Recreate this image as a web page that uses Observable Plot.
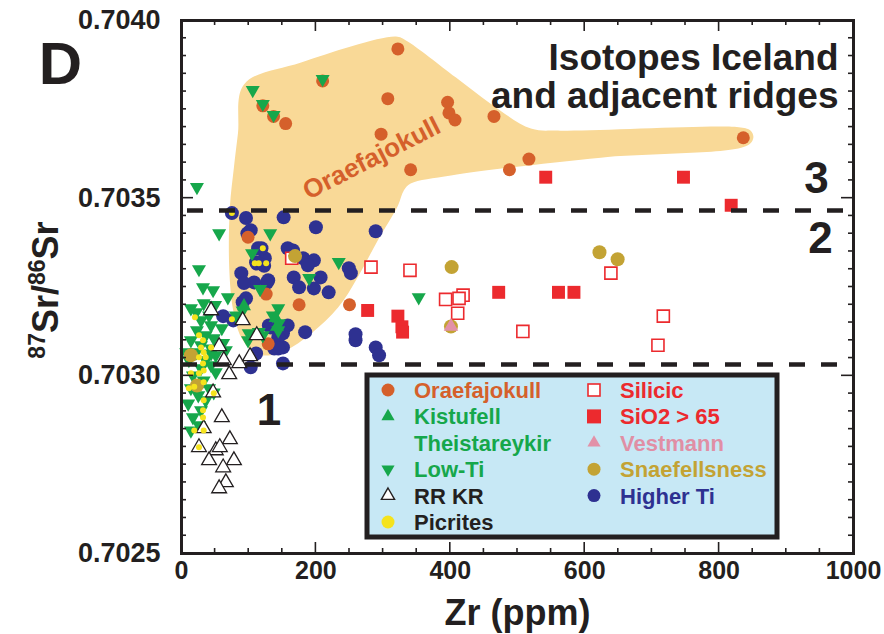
<!DOCTYPE html>
<html><head><meta charset="utf-8">
<script src="https://cdn.jsdelivr.net/npm/d3@7"></script>
<script src="https://cdn.jsdelivr.net/npm/@observablehq/plot@0.6"></script>
<style>
body{margin:0;background:#fff;}
#chart{width:884px;height:634px;}
svg{font-family:"Liberation Sans",Arial,sans-serif;}
</style></head><body><div id="chart"></div>
<script>
// ---- data (Zr ppm, 87Sr/86Sr) ----
const oraefajokullField = [[93,0.70382],[178,0.703882],[319,0.703955],[334,0.703944],[408,0.70384],[460,0.703766],[520,0.703696],[564,0.70369],[832,0.703699],[847,0.70369],[851,0.703671],[842,0.703648],[624,0.703614],[401,0.703564],[341,0.703541],[331,0.703522],[322,0.703479],[292,0.703381],[262,0.703277],[233,0.703192],[193,0.703119],[155,0.703071],[129,0.703057],[108,0.703066],[89,0.703108],[77,0.703184],[71,0.703305],[72,0.703474],[78,0.703586],[84,0.703682]];
const oraefajokull = [[322,0.70392],[210,0.70383],[307,0.70378],[396,0.70377],[398,0.70374],[407,0.70372],[465,0.70373],[297,0.70368],[341,0.70358],[488,0.70358],[517,0.70361],[836,0.70367],[121,0.70376],[137,0.70373],[155,0.70371],[99,0.70339],[126,0.70323],[175,0.70320],[250,0.70320],[129,0.70309]];
const kistufell = [[93,0.703196],[140,0.703163],[142,0.703138]];
const lowTi = [[23,0.703531],[106,0.703804],[121,0.703765],[137,0.703734],[210,0.703835],[56,0.703401],[132,0.703401],[105,0.703345],[26,0.7033],[234,0.70332],[190,0.703275],[32,0.703249],[47,0.703241],[117,0.703244],[69,0.703221],[353,0.703221],
[14,0.70319],[22,0.703179],[33,0.703204],[41,0.70317],[29,0.703156],[44,0.703142],[23,0.703128],[36,0.703114],[48,0.703106],[14,0.7031],[29,0.703086],[44,0.703077],[51,0.703058],[22,0.703066],[36,0.703044],[11,0.703044],[29,0.703021],[44,0.70303],[51,0.70301],[17,0.703001],[33,0.702987],[41,0.702965],[48,0.702953],[10,0.702922],[17,0.702883],[14,0.702846],[29,0.702903],[36,0.702931],[25,0.702945],[50,0.703199],[60,0.703134],[62,0.703092],[66,0.703072],[91,0.703184],[144,0.70319],[136,0.70317],[145,0.703148],[144,0.703128],[81,0.70317],[100,0.70312],[115,0.703123],[99,0.7031],[121,0.703114],[44,0.703063],[7,0.703066],[14,0.702965],[26,0.702861]];
const rrkr = [[44,0.703184],[91,0.703156],[112,0.703114],[56,0.703083],[63,0.703044],[86,0.703035],[102,0.703055],[71,0.703004],[47,0.702953],[60,0.702883],[72,0.702821],[26,0.702799],[51,0.70279],[57,0.702799],[41,0.702762],[78,0.702762],[62,0.702742],[66,0.7027],[56,0.702683],[33,0.702852]];
const picrites = [[26,0.703114],[32,0.7031],[29,0.70308],[33,0.703066],[26,0.703052],[32,0.703035],[33,0.703015],[26,0.703007],[14,0.703007],[36,0.703052],[44,0.70308],[33,0.702982],[19,0.702969],[33,0.702931],[32,0.702903],[32,0.702883],[19,0.702846],[33,0.702846],[26,0.702799],[48,0.702951],[11,0.702965],[20,0.703165],[75,0.703159],[121,0.703359],[109,0.703317],[115,0.703317],[126,0.703317],[75,0.703458]];
const silicic = [[282,0.703306],[340,0.703297],[393,0.703215],[419,0.703227],[413,0.703218],[411,0.703176],[508,0.703125],[639,0.703289],[717,0.703168],[709,0.703086],[164,0.703331]];
const sio2 = [[542,0.703559],[747,0.703559],[818,0.70348],[472,0.703235],[561,0.703235],[584,0.703235],[277,0.703184],[322,0.703168],[328,0.703138],[329,0.703123]];
const vestmann = [[401,0.703139]];
const snaefellsness = [[169,0.703337],[402,0.703306],[622,0.703348],[649,0.703328],[401,0.703139],[14,0.703058],[23,0.702973]];
const higherTi = [[75,0.703458],[96,0.703444],[152,0.703446],[103,0.70341],[98,0.703401],[200,0.703418],[289,0.703407],[114,0.703359],[124,0.703331],[111,0.70332],[166,0.703353],[181,0.703331],[197,0.703325],[188,0.703311],[89,0.703289],[108,0.703263],[129,0.703269],[93,0.703261],[167,0.703277],[175,0.703249],[207,0.703277],[197,0.703246],[219,0.703235],[249,0.703303],[252,0.703289],[96,0.703218],[91,0.703207],[62,0.703168],[77,0.703156],[158,0.703142],[130,0.703142],[151,0.70312],[151,0.70308],[138,0.703077],[111,0.703063],[103,0.703024],[151,0.703035],[184,0.703123],[259,0.7031],[259,0.703117],[289,0.70308],[294,0.703058],[158,0.703359],[119,0.703359],[112,0.703316],[123,0.70331],[127,0.703262],[133,0.703136],[144,0.703108],[144,0.703077]];
const boundaries = [0.703465, 0.703032];
const xTickLabels = [0, 200, 400, 600, 800, 1000];
const yTickLabels = [0.7025, 0.7030, 0.7035, 0.7040];
const legendLabels = ["Oraefajokull","Kistufell","Theistareykir","Low-Ti","RR KR","Picrites","Silicic","SiO2 > 65","Vestmann","Snaefellsness","Higher Ti"];

const C = {orange:"#d5602b", green:"#16a74b", black:"#231f20", yellow:"#f5e31d", red:"#ec2a2e", pink:"#e291a8", gold:"#c3a334", blue:"#2e3191", field:"#f9d997", legendBg:"#c7e8f5"};
const X = d => d[0], Y = d => d[1];

const chart = Plot.plot({
  width: 884, height: 634,
  marginLeft: 181, marginRight: 31, marginTop: 20, marginBottom: 81,
  x: {domain: [0, 1000]},
  y: {domain: [0.7025, 0.7040]},
  style: {fontFamily: "Liberation Sans, Arial, sans-serif", background: "white"},
  marks: [
    Plot.line(oraefajokullField, {x: X, y: Y, curve: "catmull-rom-closed", fill: C.field, stroke: "none"}),
    Plot.text(["Oraefajokull"], {x: 283, y: 0.703612, rotate: -27, fill: C.orange, fontSize: 26, fontWeight: "bold"}),
    Plot.dot(higherTi, {x: X, y: Y, r: 7, fill: C.blue}),
    Plot.dot(oraefajokull, {x: X, y: Y, r: 6.5, fill: C.orange}),
    Plot.dot(silicic, {x: X, y: Y, symbol: "square", r: 6.8, fill: "white", stroke: C.red, strokeWidth: 1.6}),
    Plot.dot(sio2, {x: X, y: Y, symbol: "square", r: 7.3, fill: C.red}),
    Plot.dot(lowTi, {x: X, y: Y, symbol: "triangle", rotate: 180, r: 5.2, fill: C.green}),
    Plot.dot(kistufell, {x: X, y: Y, symbol: "triangle", r: 5.2, fill: C.green}),
    Plot.dot(snaefellsness, {x: X, y: Y, r: 7, fill: C.gold}),
    Plot.dot(vestmann, {x: X, y: Y, symbol: "triangle", r: 5.4, fill: C.pink}),
    Plot.dot(rrkr, {x: X, y: Y, symbol: "triangle", r: 5.5, fill: "white", stroke: C.black, strokeWidth: 1.3}),
    Plot.dot(picrites, {x: X, y: Y, r: 3, fill: C.yellow}),
    Plot.ruleY([boundaries[0]], {stroke: C.black, strokeWidth: 4.5, strokeDasharray: "16,16", strokeDashoffset: -6}),
    Plot.ruleY([boundaries[1]], {stroke: C.black, strokeWidth: 4.5, strokeDasharray: "16,16", strokeDashoffset: 0}),
    Plot.frame({stroke: C.black, strokeWidth: 3}),
    Plot.axisX(xTickLabels, {anchor: "bottom", tickSize: 0, tickPadding: 8, label: null, tickFormat: d3.format("d"), fontSize: 25, fontWeight: "bold", fill: C.black}),
    Plot.axisY(yTickLabels, {anchor: "left", tickSize: 0, tickPadding: 21, label: null, tickFormat: d3.format(".4f"), fontSize: 27, fontWeight: "bold", fill: C.black}),
    Plot.text(["Zr (ppm)"], {frameAnchor: "bottom", lineAnchor: "middle", dy: 60, fontSize: 36, fontWeight: "bold", fill: C.black}),
    Plot.text(["D"], {frameAnchor: "top-left", textAnchor: "middle", lineAnchor: "middle", dx: -121, dy: 44, fontSize: 60, fontWeight: "bold", fill: C.black}),
    Plot.text(["Isotopes Iceland\nand adjacent ridges"], {frameAnchor: "top-right", dx: -15, dy: 23, textAnchor: "end", lineAnchor: "top", lineHeight: 1.02, fontSize: 37, fontWeight: "bold", fill: C.black}),
    Plot.text(["3"], {x: 945, y: 0.703553, fontSize: 44, fontWeight: "bold", fill: C.black}),
    Plot.text(["2"], {x: 951, y: 0.703386, fontSize: 44, fontWeight: "bold", fill: C.black}),
    Plot.text(["1"], {x: 130, y: 0.7029, fontSize: 44, fontWeight: "bold", fill: C.black})
  ]
});
document.getElementById("chart").appendChild(chart);

// inner tick marks on all four sides, positioned through Plot's scales
const svg = d3.select(chart);
const sx = chart.scale("x"), sy = chart.scale("y");
const x0 = sx.apply(0), x1 = sx.apply(1000), y0 = sy.apply(0.7025), y1 = sy.apply(0.7040);
const tg = svg.append("g").attr("stroke", C.black).attr("stroke-width", 1.6);
d3.range(0, 1001, 50).forEach(v => {
  const px = sx.apply(v), len = v % 200 === 0 ? 11 : 5;
  tg.append("line").attr("x1", px).attr("x2", px).attr("y1", y0).attr("y2", y0 - len);
  tg.append("line").attr("x1", px).attr("x2", px).attr("y1", y1).attr("y2", y1 + len);
});
d3.range(0, 31).forEach(i => {
  const v = 0.7025 + i * 0.00005, py = sy.apply(v), len = i % 10 === 0 ? 12 : 5;
  tg.append("line").attr("y1", py).attr("y2", py).attr("x1", x0).attr("x2", x0 + len);
  tg.append("line").attr("y1", py).attr("y2", py).attr("x1", x1).attr("x2", x1 - len);
});

// y-axis title with superscripts
const yt = svg.append("text").attr("transform", "translate(58,290) rotate(-90)")
  .attr("text-anchor", "middle").attr("fill", C.black)
  .style("font-size", "36px").style("font-weight", "bold");
yt.append("tspan").attr("dy", -13).style("font-size", "23px").text("87");
yt.append("tspan").attr("dy", 13).text("Sr/");
yt.append("tspan").attr("dy", -13).style("font-size", "23px").text("86");
yt.append("tspan").attr("dy", 13).text("Sr");

// legend box
const lg = svg.append("g").attr("text-anchor", "start");
lg.append("rect").attr("x", 367).attr("y", 375).attr("width", 410).attr("height", 162)
  .attr("fill", C.legendBg).attr("stroke", C.black).attr("stroke-width", 5);
const legendSpec = [
  [0,0,C.orange,"circle"],[0,1,C.green,"tri"],[0,2,C.green,null],[0,3,C.green,"tridown"],[0,4,C.black,"opentri"],[0,5,C.black,"yellow"],
  [1,0,C.red,"opensq"],[1,1,C.red,"sq"],[1,2,"#e08fa5","pinktri"],[1,3,C.gold,"gold"],[1,4,C.blue,"blue"]
];
const tri = d3.symbol(d3.symbolTriangle, 75)();
legendSpec.forEach(([col,row,color,sym],i) => {
  const cy = 390 + row * 26.4, sxp = col ? 594 : 388, tx = col ? 620 : 414;
  const g = lg.append("g").attr("transform", `translate(${sxp},${cy})`);
  if (sym === "circle") g.append("circle").attr("r", 6.5).attr("fill", C.orange);
  if (sym === "tri") g.append("path").attr("d", tri).attr("fill", C.green);
  if (sym === "tridown") g.append("path").attr("d", tri).attr("transform", "rotate(180)").attr("fill", C.green);
  if (sym === "opentri") g.append("path").attr("d", tri).attr("fill", "white").attr("stroke", C.black).attr("stroke-width", 1.4);
  if (sym === "yellow") g.append("circle").attr("r", 6.5).attr("fill", C.yellow);
  if (sym === "opensq") g.append("rect").attr("x", -6).attr("y", -6).attr("width", 12).attr("height", 12).attr("fill", "white").attr("stroke", C.red).attr("stroke-width", 1.6);
  if (sym === "sq") g.append("rect").attr("x", -7).attr("y", -7).attr("width", 14).attr("height", 14).attr("fill", C.red);
  if (sym === "pinktri") g.append("path").attr("d", tri).attr("fill", C.pink);
  if (sym === "gold") g.append("circle").attr("r", 6.5).attr("fill", C.gold);
  if (sym === "blue") g.append("circle").attr("r", 6.5).attr("fill", C.blue);
  lg.append("text").attr("x", tx).attr("y", cy).attr("dy", "0.36em").attr("text-anchor", "start").attr("fill", color)
    .style("font-size", "22px").style("font-weight", "bold").text(legendLabels[i]);
});
</script></body></html>
